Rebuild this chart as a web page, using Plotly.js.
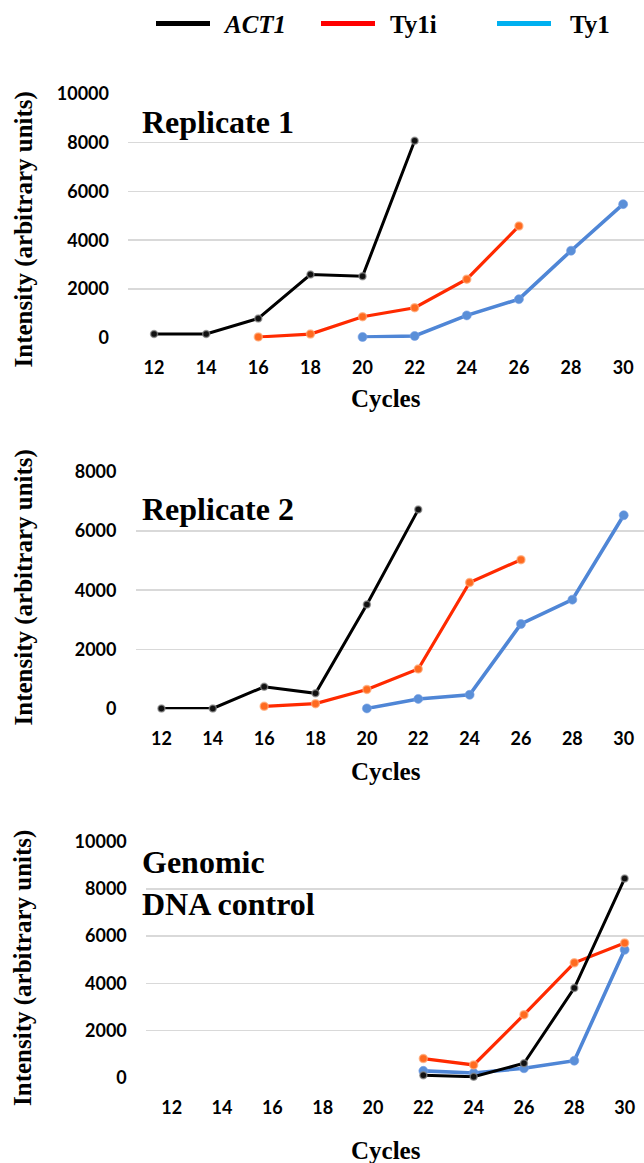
<!DOCTYPE html>
<html>
<head>
<meta charset="utf-8">
<script src="https://cdn.plot.ly/plotly-3.0.1.min.js"></script>
<style>html,body{margin:0;padding:0;background:#fff;}#chart{width:644px;height:1163px;}</style>
</head>
<body>
<div id="chart"></div>
<script>
// ---- data ----
const cycleTicks = [12, 14, 16, 18, 20, 22, 24, 26, 28, 30];
const seriesNames = ["ACT1", "Ty1i", "Ty1"];

// Replicate 1
const r1_act1_x = [12, 14, 16, 18, 20, 22];
const r1_act1_y = [150, 150, 790, 2590, 2520, 8080];
const r1_ty1i_x = [16, 18, 20, 22, 24, 26];
const r1_ty1i_y = [30, 150, 860, 1230, 2400, 4580];
const r1_ty1_x = [20, 22, 24, 26, 28, 30];
const r1_ty1_y = [30, 70, 915, 1580, 3570, 5480];

// Replicate 2
const r2_act1_x = [12, 14, 16, 18, 20, 22];
const r2_act1_y = [10, 10, 740, 520, 3520, 6720];
const r2_ty1i_x = [16, 18, 20, 22, 24, 26];
const r2_ty1i_y = [80, 170, 650, 1340, 4260, 5030];
const r2_ty1_x = [20, 22, 24, 26, 28, 30];
const r2_ty1_y = [10, 330, 470, 2860, 3680, 6530];

// Genomic DNA control
const g_act1_x = [22, 24, 26, 28, 30];
const g_act1_y = [100, 40, 610, 3800, 8440];
const g_ty1i_x = [22, 24, 26, 28, 30];
const g_ty1i_y = [810, 540, 2670, 4870, 5710];
const g_ty1_x = [22, 24, 26, 28, 30];
const g_ty1_y = [290, 200, 400, 720, 5420];

const panelTitles = ["Replicate 1", "Replicate 2", "Genomic<br>DNA control"];
const yTitle = "Intensity (arbitrary units)";
const xTitle = "Cycles";

// ---- styling ----
const W = 644, H = 1163;
const px = v => v / W;
const py = v => 1 - v / H;

const lineColors = {ACT1: "#000000", Ty1i: "#ff2a00", Ty1: "#4f86d6"};
const legendColors = {ACT1: "#000000", Ty1i: "#ff0000", Ty1: "#00b0f0"};
const markerStyle = {
  ACT1: {color: "#111111", size: 7, line: {color: "rgba(140,140,140,0.7)", width: 1.5}},
  Ty1i: {color: "#ff6a1f", size: 8, line: {color: "rgba(255,170,120,0.7)", width: 1.5}},
  Ty1: {color: "#5a8fd8", size: 9, line: {color: "rgba(120,160,230,0.6)", width: 1}}
};
const lineWidths = {ACT1: 3, Ty1i: 3.2, Ty1: 3.6};

function tr(name, x, y, k) {
  return {
    type: "scatter", mode: "lines+markers", name: name, x: x, y: y,
    xaxis: "x" + (k === 1 ? "" : k), yaxis: "y" + (k === 1 ? "" : k),
    line: {color: lineColors[name], width: lineWidths[name]},
    marker: markerStyle[name], cliponaxis: false, showlegend: false
  };
}

const data = [
  tr("Ty1", r1_ty1_x, r1_ty1_y, 1), tr("Ty1i", r1_ty1i_x, r1_ty1i_y, 1), tr("ACT1", r1_act1_x, r1_act1_y, 1),
  tr("Ty1", r2_ty1_x, r2_ty1_y, 2), tr("Ty1i", r2_ty1i_x, r2_ty1i_y, 2), tr("ACT1", r2_act1_x, r2_act1_y, 2),
  tr("Ty1", g_ty1_x, g_ty1_y, 3), tr("Ty1i", g_ty1i_x, g_ty1i_y, 3), tr("ACT1", g_act1_x, g_act1_y, 3)
];

const panels = [
  {l: 128, top: 94, zero: 337.7, ymax: 10000, xlo: 11.0, xhi: 30.8, titleY: 122, yTitleY: 229.5, xTitleY: 399},
  {l: 135.5, top: 471.7, zero: 708.7, ymax: 8000, xlo: 10.99, xhi: 30.79, titleY: 509, yTitleY: 587.5, xTitleY: 771.7},
  {l: 145.8, top: 841.7, zero: 1077.7, ymax: 10000, xlo: 10.97, xhi: 30.77, titleY: 883, yTitleY: 968, xTitleY: 1150}
];

const tickFont = {family: "Lato, Open Sans, sans-serif", size: 18, color: "#000", weight: "bold"};
const serifBold = {family: "Liberation Serif, DejaVu Serif, serif", color: "#000", weight: "bold"};

const layout = {
  width: W, height: H,
  margin: {l: 0, r: 0, t: 0, b: 0},
  paper_bgcolor: "#fff", plot_bgcolor: "rgba(0,0,0,0)",
  showlegend: false,
  annotations: [], shapes: []
};

panels.forEach((p, i) => {
  const k = i + 1;
  const xa = "xaxis" + (k === 1 ? "" : k);
  const ya = "yaxis" + (k === 1 ? "" : k);
  const pad = p.ymax * 0.002;
  const spanPx = p.zero - p.top;
  const padPx = spanPx * 0.002;
  layout[xa] = {
    domain: [px(p.l), 1], range: [p.xlo, p.xhi],
    tickvals: cycleTicks, ticktext: cycleTicks.map(String),
    showgrid: false, zeroline: false, showline: false, ticks: "",
    ticklabelstandoff: 17, tickfont: tickFont, anchor: "y" + (k === 1 ? "" : k), fixedrange: true
  };
  layout[ya] = {
    domain: [py(p.zero + padPx), py(p.top - padPx)], range: [-pad, p.ymax + pad],
    dtick: 2000, tick0: 0, tickformat: "d", showgrid: true, gridcolor: "#d9d9d9", gridwidth: 1.5,
    zeroline: false, showline: false, ticks: "",
    ticklabelstandoff: 18, tickfont: tickFont, anchor: "x" + (k === 1 ? "" : k), fixedrange: true
  };
  layout.annotations.push({
    xref: "paper", yref: "paper", x: px(140), y: py(p.titleY), xanchor: "left", yanchor: "middle",
    text: panelTitles[i], showarrow: false, align: "left",
    font: Object.assign({}, serifBold, {size: 32})
  });
  layout.annotations.push({
    xref: "paper", yref: "paper", x: px(23), y: py(p.yTitleY), xanchor: "center", yanchor: "middle",
    text: yTitle, textangle: -90, showarrow: false,
    font: Object.assign({}, serifBold, {size: 25})
  });
  layout.annotations.push({
    xref: "paper", yref: "paper", x: px(386), y: py(p.xTitleY), xanchor: "center", yanchor: "middle",
    text: xTitle, showarrow: false,
    font: Object.assign({}, serifBold, {size: 25})
  });
});

const legendItems = [
  {name: "ACT1", x0: 156, x1: 210, tx: 221, italic: true},
  {name: "Ty1i", x0: 321, x1: 375, tx: 388, italic: false},
  {name: "Ty1", x0: 497, x1: 551, tx: 568, italic: false}
];
legendItems.forEach(it => {
  layout.shapes.push({
    type: "line", xref: "paper", yref: "paper",
    x0: px(it.x0), x1: px(it.x1), y0: py(23.5), y1: py(23.5),
    line: {color: legendColors[it.name], width: 5}
  });
  layout.annotations.push({
    xref: "paper", yref: "paper", x: px(it.tx), y: py(25), xanchor: "left", yanchor: "middle",
    text: it.name, showarrow: false,
    font: Object.assign({}, serifBold, {size: 25, style: it.italic ? "italic" : "normal"})
  });
});

Plotly.newPlot("chart", data, layout, {staticPlot: true, displayModeBar: false});
</script>
</body>
</html>
